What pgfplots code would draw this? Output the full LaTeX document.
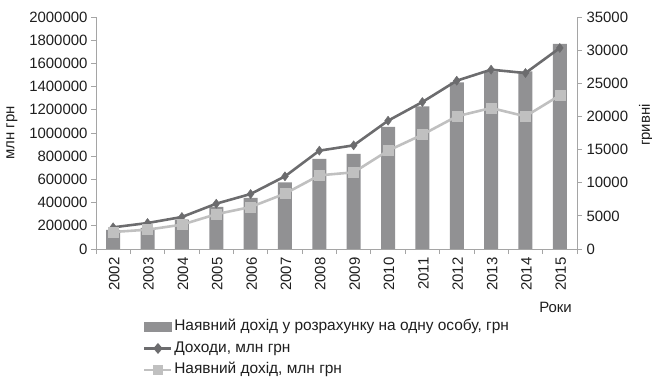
\documentclass[border=0pt]{standalone}
\usepackage{pgfplots}
\pgfplotsset{compat=1.18}
\usepackage{pgfplotstable}
\usepackage{fontspec}
\setmainfont{Liberation Sans}
\definecolor{barc}{RGB}{145,145,147}
\definecolor{darkl}{RGB}{108,108,110}
\definecolor{lightl}{RGB}{192,192,192}
\definecolor{axc}{RGB}{165,165,165}
\definecolor{txt}{RGB}{30,30,30}

\pgfplotstableread{
x bar inc disp
0 2900 186800 146600
1 3170 224000 166700
2 4430 275900 209800
3 6340 390800 300000
4 7700 474100 362100
5 10060 626400 477000
6 13580 847700 635000
7 14340 893700 661000
8 18410 1106000 847700
9 21530 1267000 985600
10 25150 1451000 1143700
11 26810 1546000 1215500
12 26810 1517000 1143700
13 30940 1733000 1324700
}\data

\pgfplotsset{
  common/.style={
    scale only axis, width=481bp, height=232bp,
    xmin=-0.5, xmax=13.5,
    axis line style={-,draw=axc, line width=0.8pt},
    tick style={draw=axc, line width=0.8pt},
    tick align=outside,
    major tick length=5bp, minor tick length=5bp,
    /pgf/number format/fixed,
    /pgf/number format/assume math mode=true,
    /pgf/number format/set thousands separator={},
    scaled ticks=false,
    ticklabel style={font=\fontsize{15}{17}\selectfont, text=txt},
    label style={font=\fontsize{15}{17}\selectfont, text=txt},
  }
}

\begin{document}
\begin{tikzpicture}
\path[use as bounding box] (-96bp,-131bp) rectangle (556bp,249bp);
\begin{axis}[common,
  ymin=0, ymax=35000,
  axis y line*=right, axis x line=none,
  ytick={0,5000,...,35000},
  yticklabel style={xshift=1bp},
  ybar, bar width=14bp,
  clip=false,
]
\addplot[fill=barc, draw=none] table[x=x, y=bar] {\data};
\node[rotate=90, anchor=center, font=\fontsize{15}{17}\selectfont, text=txt]
  at ([xshift=69bp]rel axis cs:1,0.534) {гривні};
\end{axis}
\begin{axis}[common,
  ymin=0, ymax=2000000,
  axis y line*=left, axis x line*=bottom,
  ytick={0,200000,...,2000000},
  xtick={0,...,13},
  xticklabels={2002,2003,2004,2005,2006,2007,2008,2009,2010,2011,2012,2013,2014,2015},
  major x tick style={draw=none},
  minor xtick={-0.5,0.5,...,13.5},
  xticklabel style={rotate=90, anchor=east, yshift=-1bp},
  ylabel={млн грн},
  ylabel style={at={([xshift=-84bp]rel axis cs:0,0.5)}, anchor=center},
  xlabel={Роки},
  xlabel style={at={([xshift=-5bp,yshift=-63bp]rel axis cs:1,0)}, anchor=base east, inner sep=0pt},
  legend style={at={([xshift=47bp,yshift=-69bp]rel axis cs:0,0)}, anchor=north west, draw=none, fill=none,
    font=\fontsize{15.5}{17}\selectfont, text=txt, cells={anchor=west},
    nodes={inner sep=1.5bp, text height=11bp, text depth=3.5bp},
    row sep=4bp, inner sep=0pt, /tikz/every even column/.append style={column sep=1bp}},
]
\addlegendimage{legend image code/.code={\fill[barc] (0bp,-4.5bp) rectangle (27bp,4.5bp);}}
\addlegendentry{Наявний дохід у розрахунку на одну особу, грн}
\addplot[color=darkl, line width=2.6pt, mark=diamond*, mark size=4.5bp,
  mark options={fill=darkl, draw=darkl, line width=0.5pt},
  legend image code/.code={\draw[darkl, line width=2.6pt] (0bp,0bp) -- (27bp,0bp);
    \fill[darkl] (13.5bp,-3.5bp) -- (16.5bp,0bp) -- (13.5bp,3.5bp) -- (10.5bp,0bp) -- cycle;}]
  table[x=x, y=inc] {\data};
\addlegendentry{Доходи, млн грн}
\addplot[color=lightl, line width=2.6pt, mark=square*, mark size=5bp,
  mark options={fill=lightl, draw=lightl, line width=0.5pt},
  legend image code/.code={\draw[lightl, line width=2.6pt] (0bp,0bp) -- (27bp,0bp);
    \fill[lightl] (10bp,-3.5bp) rectangle (17bp,3.5bp);}]
  table[x=x, y=disp] {\data};
\addlegendentry{Наявний дохід, млн грн}
\end{axis}
\end{tikzpicture}
\end{document}
